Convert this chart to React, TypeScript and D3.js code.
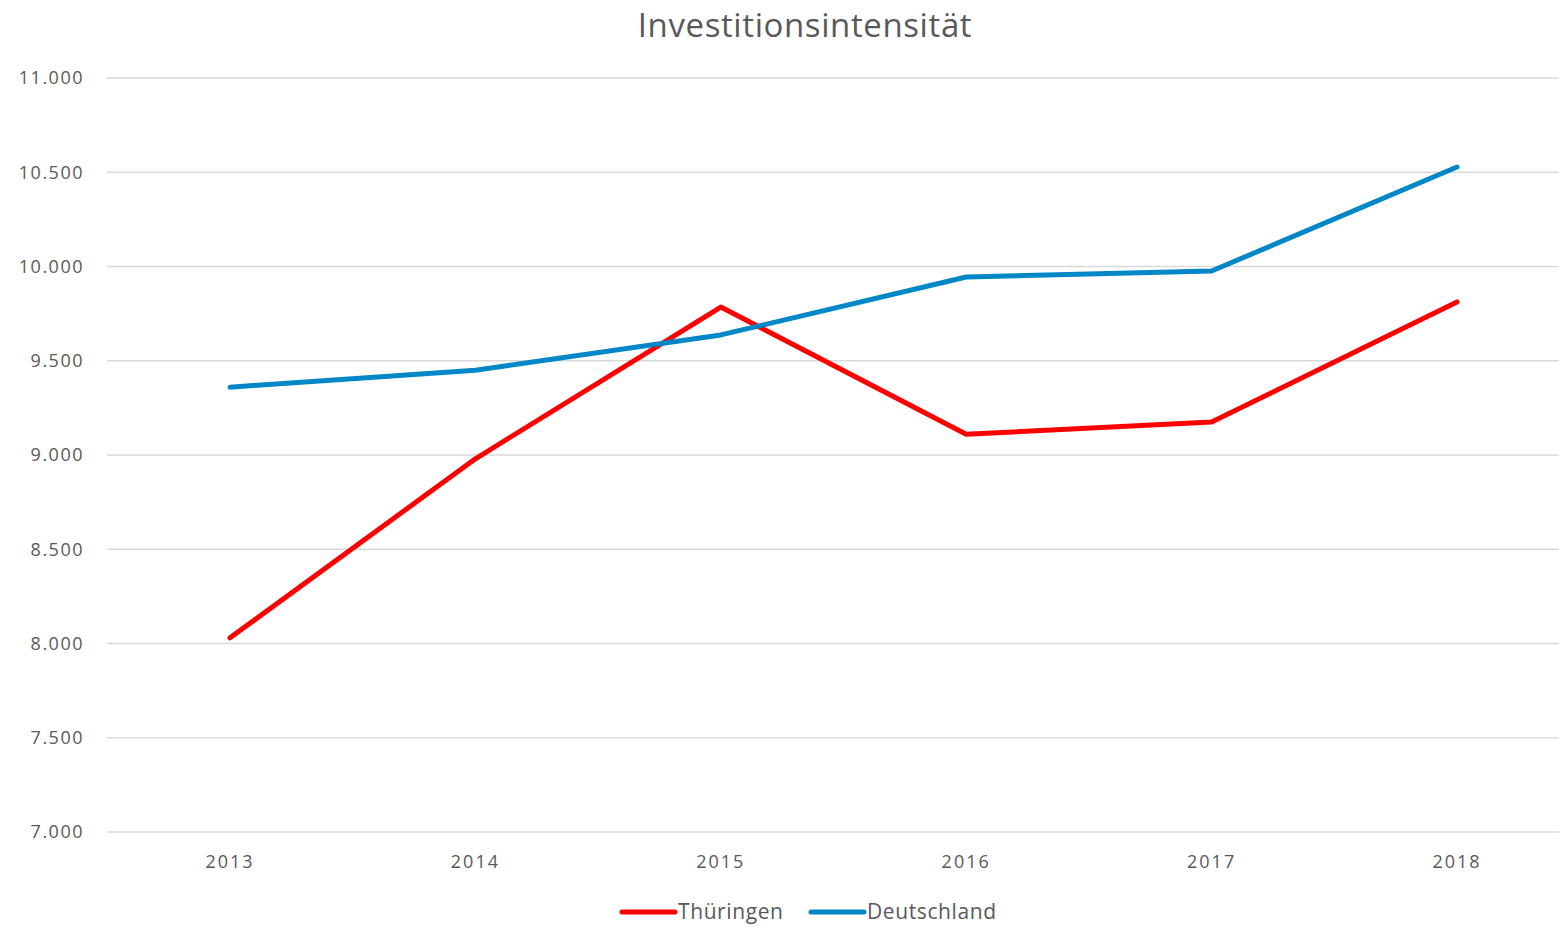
import React, { useRef, useEffect } from 'react';
import * as d3 from 'd3';

const years = ['2013', '2014', '2015', '2016', '2017', '2018'];
const thueringen = [8030, 8980, 9785, 9110, 9175, 9812];
const deutschland = [9360, 9450, 9637, 9944, 9976, 10528];
const yTicks = [7000, 7500, 8000, 8500, 9000, 9500, 10000, 10500, 11000];

const seriesNames = ['Thüringen', 'Deutschland'];
const seriesColors = ['#ff0000', '#0087c7'];

function App() {
  const svgRef = useRef<SVGSVGElement>(null);

  useEffect(() => {
    const w = 1559;
    const h = 927;
    const svg = d3.select(svgRef.current);
    svg.selectAll('*').remove();
    svg.attr('width', w).attr('height', h);

    const font = '"Open Sans", "DejaVu Sans", sans-serif';
    const textColor = '#595959';

    // scales
    const x = d3.scalePoint<string>()
      .domain(years)
      .range([230, 1457]);

    const y = d3.scaleLinear()
      .domain([7000, 11000])
      .range([832, 78]);

    // gridlines
    svg.append('g')
      .selectAll('line')
      .data(yTicks)
      .join('line')
      .attr('x1', 107)
      .attr('x2', w)
      .attr('y1', d => y(d))
      .attr('y2', d => y(d))
      .attr('stroke', '#d9d9d9')
      .attr('stroke-width', 1.5);

    // y labels
    const fmt = (v: number) => d3.format(',')(v).replace(/,/g, '.');
    svg.append('g')
      .selectAll('text')
      .data(yTicks)
      .join('text')
      .attr('x', 84)
      .attr('y', d => y(d))
      .attr('dy', '0.35em')
      .attr('text-anchor', 'end')
      .style('font-family', font)
      .style('font-size', '18px')
      .style('letter-spacing', '1.5px')
      .attr('fill', textColor)
      .text(d => fmt(d));

    // x labels
    svg.append('g')
      .selectAll('text')
      .data(years)
      .join('text')
      .attr('x', d => x(d)!)
      .attr('y', 868)
      .attr('text-anchor', 'middle')
      .style('font-family', font)
      .style('font-size', '18px')
      .style('letter-spacing', '2px')
      .attr('fill', textColor)
      .text(d => d);

    // lines
    const line = d3.line<number>()
      .x((d, i) => x(years[i])!)
      .y(d => y(d));

    [thueringen, deutschland].forEach((s, i) => {
      svg.append('path')
        .datum(s)
        .attr('d', line)
        .attr('fill', 'none')
        .attr('stroke', seriesColors[i])
        .attr('stroke-width', 5)
        .attr('stroke-linecap', 'round')
        .attr('stroke-linejoin', 'round');
    });

    // title
    svg.append('text')
      .attr('x', 805)
      .attr('y', 37)
      .attr('text-anchor', 'middle')
      .style('font-family', font)
      .style('font-size', '33px')
      .style('letter-spacing', '0.6px')
      .attr('fill', textColor)
      .text('Investitionsintensität');

    // legend
    const legendX = [622, 811];
    seriesNames.forEach((name, i) => {
      const g = svg.append('g').attr('transform', `translate(${legendX[i]}, 912)`);
      g.append('line')
        .attr('x1', 0)
        .attr('x2', 53)
        .attr('stroke', seriesColors[i])
        .attr('stroke-width', 5)
        .attr('stroke-linecap', 'round');
      g.append('text')
        .attr('x', 56)
        .attr('dy', '0.35em')
        .style('font-family', font)
        .style('font-size', '21px')
        .style('letter-spacing', '0.6px')
        .attr('fill', textColor)
        .text(name);
    });
  }, []);

  return (
    <div style={{ position: 'absolute', left: 0, top: 0 }}>
      <svg ref={svgRef}></svg>
    </div>
  );
}

export default App;
